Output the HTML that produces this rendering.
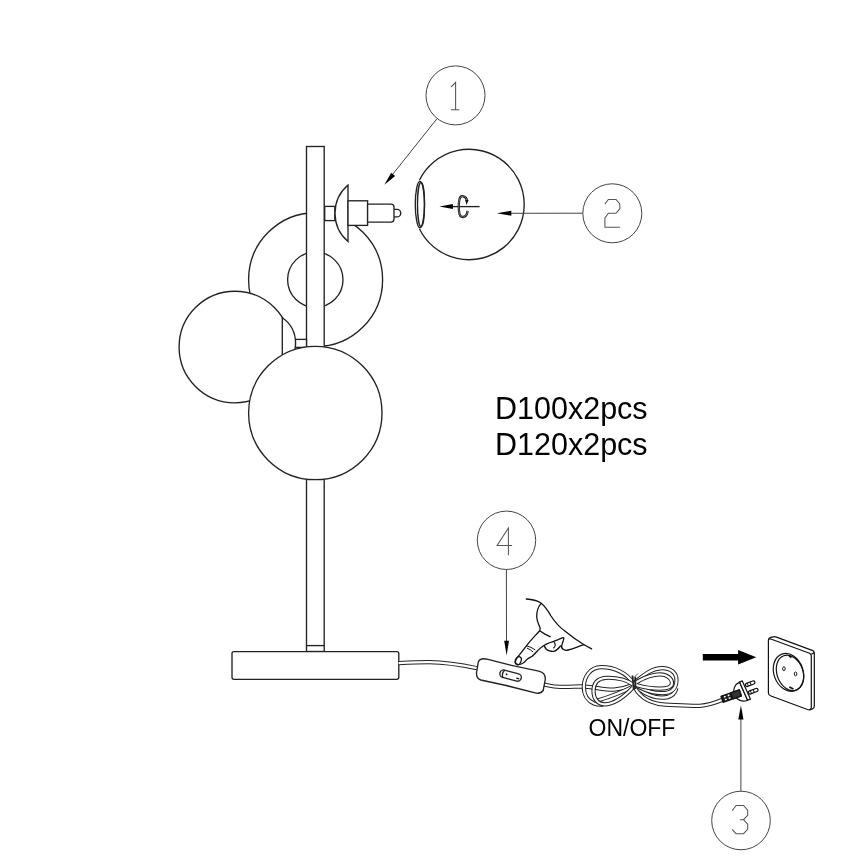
<!DOCTYPE html>
<html><head><meta charset="utf-8"><style>
html,body{margin:0;padding:0;background:#fff;width:868px;height:868px;overflow:hidden}
svg{display:block}
text{font-family:"Liberation Sans",sans-serif;fill:#000;-webkit-font-smoothing:antialiased}
.tx{will-change:transform;opacity:0.999}
.k{fill:#fff;stroke:#222;stroke-width:1.35}
.n{fill:none;stroke:#222;stroke-width:1.35}
.g{fill:none;stroke:#444;stroke-width:1}
.gd{fill:none;stroke:#555;stroke-width:1.05;stroke-linejoin:miter}
.f{fill:#000;stroke:none}
</style></head><body>
<svg width="868" height="868" viewBox="0 0 868 868">
<rect width="868" height="868" fill="#fff"/>

<!-- callout circles -->
<circle class="g" cx="455.5" cy="95.4" r="29.5"/>
<circle class="g" cx="612.3" cy="213.3" r="29.5"/>
<circle class="g" cx="506.5" cy="540.3" r="29.2"/>
<circle class="g" cx="741" cy="820.5" r="29.3"/>
<!-- digits -->
<path class="gd" d="M451,87.2 L455.6,82.4 L455.6,109.8 M451,109.8 L459.3,109.8"/>
<path class="gd" d="M604.9,203.9 L608.4,199.5 L616,199.5 L619.7,203.6 L619.9,208.7 L616,213.3 L608.4,213.3 L604.9,217.9 L604.9,227.3 L619.9,227.3"/>
<path class="gd" d="M508.4,555.3 L508.4,528 L497.1,545.5 L512.1,545.5"/>
<path class="gd" d="M732.1,810.8 L736.1,805.4 L743.5,805.4 L747.7,810.1 L747.7,815.3 L743.5,819.7 L739.9,819.7 M743.5,819.7 L747.7,824.1 L747.7,829.3 L743.5,833.7 L736.1,833.7 L732.1,829.3"/>

<!-- lamp: back big ball -->
<circle class="k" cx="315.6" cy="279.7" r="67"/>
<circle class="k" cx="315.3" cy="279.7" r="27.7"/>
<!-- left ball -->
<circle class="k" cx="234.9" cy="347" r="55.8"/>
<!-- stem -->
<rect class="k" x="306.5" y="146.5" width="17.7" height="505"/>
<line class="n" x1="306.5" y1="645.6" x2="324.2" y2="645.6"/>
<!-- left cup -->
<rect class="k" x="295.4" y="339.4" width="11.1" height="8"/>
<path class="k" d="M282.3,317.7 A30.8,30.8 0 0 1 282.3,368.3 Z"/>
<!-- front ball -->
<circle class="k" cx="315.3" cy="413" r="66.7"/>

<!-- top socket -->
<rect class="k" x="324.7" y="206.4" width="10.2" height="14.2"/>
<path class="k" d="M348,185.1 A37.2,37.2 0 0 0 348,241.6 Z"/>
<rect class="k" x="348" y="200.8" width="19.6" height="24.6"/>
<path class="k" d="M394,209.4 L397,209.4 A3.75,3.75 0 0 1 397,216.9 L394,216.9"/>
<path class="k" d="M367.6,204.1 L391,204.1 Q394,204.1 394,207.1 L394,219.1 Q394,222.1 391,222.1 L367.6,222.1 Z"/>

<!-- ball 2 -->
<path class="k" d="M419.4,180.3 A55.2,55.2 0 1 1 419.4,228.7"/>
<ellipse class="n" cx="419.9" cy="204.5" rx="4.6" ry="23.2"/>
<ellipse class="n" cx="421" cy="204.5" rx="3.5" ry="22"/>
<path class="n" d="M452,206.6 L479.6,206.6" stroke-width="1.1"/>
<path class="f" d="M439.3,206.6 L452.9,204.1 L452.9,208.9 Z"/>
<path d="M467,200.8 C 466.3,195.8 460.8,194.6 459.6,198.7 C 458.5,202.5 458.5,210.5 459.6,214.3 C 460.8,218.3 466.8,218.2 467.6,210.8" fill="none" stroke="#111" stroke-width="2.3"/>
<path d="M467,200.8 C 466.3,195.8 460.8,194.6 459.6,198.7 C 458.5,202.5 458.5,210.5 459.6,214.3 C 460.8,218.3 466.8,218.2 467.6,210.8" fill="none" stroke="#bbb" stroke-width="0.6"/>
<path d="M465.2,200 L468.6,200 L466.5,205 Z" fill="#111"/>

<!-- text -->
<g class="tx">
<text x="495" y="419" font-size="30.5">D100x2pcs</text>
<text x="495" y="455" font-size="30.5">D120x2pcs</text>
<text x="588.5" y="735.6" font-size="23">ON/OFF</text>
</g>

<!-- base -->
<rect class="k" x="232" y="651.6" width="166.8" height="27.7" rx="2"/>


<!-- cables: black + white core -->
<g fill="none" stroke-linecap="butt" stroke-linejoin="round">
<path id="cab1" d="M398.6,663.2 C 410,662.6 420,662.2 429.2,662.2 C 445,662.4 462,665 477,668.2" stroke="#222" stroke-width="4.2"/>
<path d="M398.6,663.2 C 410,662.6 420,662.2 429.2,662.2 C 445,662.4 462,665 477,668.2" stroke="#fff" stroke-width="2.2"/>
<path d="M544,684.5 C 549,685.5 553,686.9 560,686.9 C 568,686.9 575,686.5 581,686.4 C 592,686.6 605,690 614,689.6 C 622,689 628,687 633,685" stroke="#222" stroke-width="4.2"/>
<path d="M544,684.5 C 549,685.5 553,686.9 560,686.9 C 568,686.9 575,686.5 581,686.4 C 592,686.6 605,690 614,689.6 C 622,689 628,687 633,685" stroke="#fff" stroke-width="2.2"/>
</g>

<!-- switch -->
<path class="k" d="M488,659.4 Q 513,666.4 538.8,671.2 Q 545.5,673 545.4,679 L 543.2,690.5 Q 540.5,694.5 534.2,692.6 Q 507,685.2 480.8,680 Q 476.2,678.5 476.5,673 L 478.3,662 Q 480,657.4 488,659.4 Z"/>
<g transform="translate(510.6,675.6) rotate(15)">
<rect class="k" x="-11" y="-3.7" width="22" height="7.4" rx="3.7"/>
<path class="n" d="M-7.2,-3.7 Q -9.4,0 -7.2,3.7" stroke-width="1.1"/>
<circle cx="-4.2" cy="-0.2" r="0.95" fill="#111"/>
<path d="M6.2,1 L9.2,1" stroke="#111" stroke-width="1.3"/>
</g>


<!-- hand -->
<g fill="none" stroke="#111" stroke-width="1.3" stroke-linecap="round" stroke-linejoin="round">
<path d="M526.3,599 C 532,599.3 537.5,600.8 540.9,603 C 544,605.5 548.5,611.5 551,616 C 555,622 559,627 564.5,630.7 C 571,636 578,641 584.1,644.7 L 591.6,648.9"/>
<path d="M540.9,603.6 C 538,607 536.6,612 536.7,617 C 537,622 539.5,626 540.2,628.4 L 539.7,630.7 L 544.9,634.1 L 550.1,636.7"/>
<path d="M539.4,631 C 535,636 530,641 526.6,645.7 C 524.5,648.5 521,653 518.3,656.3 C 516.5,657.8 515.2,659.4 515.1,661.6 C 515.1,663.3 516,664.1 517.5,664.4 C 519.5,664.8 521,664.3 522.4,663.5 C 524,662.5 525.2,661.6 525.8,660.7 C 526.5,659.8 527.3,658.8 528.4,658.3 C 530,657.6 531,657 532.1,656.3 C 534,654.8 537.5,650.8 539.5,648.9 C 541,647.5 543,645.7 545.9,644.3 C 549,642.8 553,641.5 557.6,639.9 C 560,639 563,637.3 563.8,637.8 C 564,639.5 562.5,642.5 562,644.5 C 561.3,646.5 561.6,648.3 562.8,649.1 C 564.5,650.6 566.5,650.4 568,650 C 573,648.8 578,646.5 584.1,644.7"/>
<path d="M544.4,646.2 C 545,648 546.5,650 549.5,650.9 C 551.5,651.5 553,651.5 554.5,651.2 C 556.5,650.5 558.5,648.5 560.5,646"/>
<path d="M554.1,642.2 C 555.5,644 555.5,646.5 553.6,648" stroke-width="1.1"/>
<path d="M527,645.9 Q 531,647 534.9,649.6 M 527.3,648.2 Q 530.5,649.5 532.8,651.7" stroke-width="1"/>
<ellipse cx="518.4" cy="660.7" rx="2.7" ry="4.1" transform="rotate(20 518.4 660.7)"/>
</g>

<!-- coil -->
<g fill="none" stroke-linecap="butt" stroke-linejoin="round">
<path d="M633,683 C 627,673 614,667 601,667.2 C 590,667.5 583.8,677 583.8,687 C 583.8,695 588,701 594,703.5 C 597,704.6 600,704.8 603,704.6" stroke="#222" stroke-width="4.2"/>
<path d="M633,683 C 627,673 614,667 601,667.2 C 590,667.5 583.8,677 583.8,687 C 583.8,695 588,701 594,703.5 C 597,704.6 600,704.8 603,704.6" stroke="#fff" stroke-width="2.2"/>
<path d="M596,701 C 606,698 620,693.5 633,686.5" stroke="#222" stroke-width="4.2"/>
<path d="M596,701 C 606,698 620,693.5 633,686.5" stroke="#fff" stroke-width="2.2"/>
<path d="M633,684.5 C 626,679.5 615,677.5 606,677.8 C 597,678.2 593.5,684 593.5,691 C 593.5,699 598,704.3 604.5,704.3 C 613,704.3 624,697 633,687.5" stroke="#222" stroke-width="4.2"/>
<path d="M633,684.5 C 626,679.5 615,677.5 606,677.8 C 597,678.2 593.5,684 593.5,691 C 593.5,699 598,704.3 604.5,704.3 C 613,704.3 624,697 633,687.5" stroke="#fff" stroke-width="2.2"/>
<path d="M635,686 C 643,693 652,697.7 662,697.7 C 670,697.7 675,694 676.3,688" stroke="#222" stroke-width="4.2"/>
<path d="M635,686 C 643,693 652,697.7 662,697.7 C 670,697.7 675,694 676.3,688" stroke="#fff" stroke-width="2.2"/>
<path d="M635,682 C 645,674 652,668.3 662,668.1 C 671,668 676.5,673 676.5,680 C 676.5,688 672,693.2 662,693.2 C 652,693.2 642,689 635,685" stroke="#222" stroke-width="4.2"/>
<path d="M635,682 C 645,674 652,668.3 662,668.1 C 671,668 676.5,673 676.5,680 C 676.5,688 672,693.2 662,693.2 C 652,693.2 642,689 635,685" stroke="#fff" stroke-width="2.2"/>
<path d="M635,683 C 644,677.5 652,674.4 660,674.4 C 667,674.4 672,678.5 672,683 C 672,687 668,688.6 660,688.6 C 650,688.6 642,687 635,684.5" stroke="#222" stroke-width="4.2"/>
<path d="M635,683 C 644,677.5 652,674.4 660,674.4 C 667,674.4 672,678.5 672,683 C 672,687 668,688.6 660,688.6 C 650,688.6 642,687 635,684.5" stroke="#fff" stroke-width="2.2"/>
<path d="M634.5,687 C 640,697.5 650,703.8 665,704.6 C 680,705.3 692,706.2 700,705.8 C 710,705.2 716,702.5 724,699.2" stroke="#222" stroke-width="4.2"/>
<path d="M634.5,687 C 640,697.5 650,703.8 665,704.6 C 680,705.3 692,706.2 700,705.8 C 710,705.2 716,702.5 724,699.2" stroke="#fff" stroke-width="2.2"/>
<path d="M632.5,675.5 L 633.8,690 M 635.2,676.5 L 635.5,689" stroke="#222" stroke-width="1.8"/>
<path d="M635.5,676 L 638,673.5" stroke="#444" stroke-width="0.9"/>
</g>

<!-- plug -->
<g stroke="#111" stroke-width="1.2" stroke-linejoin="round">
<path d="M739.5,682.1 A9.9,9.9 0 0 0 747.6,700.2 Z" fill="#fff"/>
<g transform="translate(731.4,696) rotate(-19.5)">
<rect x="-10" y="-3.2" width="19.5" height="6.4" fill="#1a1a1a"/>
<rect x="0.5" y="-3.2" width="9" height="6.4" fill="#333"/>
<g fill="#fff" stroke="none"><rect x="-7.4" y="-2.3" width="1.9" height="1.5"/><rect x="-3.4" y="-2.3" width="1.9" height="1.5"/><rect x="-7.4" y="0.6" width="1.9" height="1.5"/><rect x="-3.4" y="0.6" width="1.9" height="1.5"/></g>
</g>
<path d="M739.5,682.1 L742.3,680.9 L750.4,699.1 L747.6,700.3 Z" fill="#fff"/>
<g transform="translate(745.5,685.5) rotate(-21)">
<rect x="0" y="-1.6" width="10" height="3.2" rx="1.6" fill="#fff"/>
<path d="M2.5,-1.6 L2.5,1.6 M 5.5,-1.6 L5.5,1.6" stroke-width="0.9"/>
</g>
<g transform="translate(748.6,693) rotate(-21)">
<rect x="0" y="-1.6" width="10" height="3.2" rx="1.6" fill="#fff"/>
<path d="M2.5,-1.6 L2.5,1.6 M 5.5,-1.6 L5.5,1.6" stroke-width="0.9"/>
</g>
</g>

<!-- big arrow -->
<path d="M702.8,654.1 L738.1,654.1 L738.1,650.1 L756.3,657.3 L738.1,664.6 L738.1,660.6 L702.8,660.6 Z" fill="#000"/>

<!-- socket -->
<g fill="#fff" stroke="#111" stroke-width="1.2" stroke-linejoin="round">
<path d="M768.4,640 Q 768.4,638 770.7,637.4 L 773.5,636.8 Q 775,636.5 776.5,637.1 L 812.8,650.6 Q 814.3,651.3 814.3,653 L 814.3,706 Q 814.3,708 812.5,708.9 L 810.5,709.6 Q 809,710 807.5,709.5 L 771,696 Q 768.4,695 768.4,693 Z"/>
<path d="M768.8,639.5 Q 769.5,638.6 771.5,639.2 L 809.5,653.2 Q 811.3,654 811.3,656 L 811.3,707.5 Q 811.3,709.4 809.5,709.6" fill="none"/>
<path d="M811.3,654.2 L 814.3,652.6" fill="none"/>
<ellipse cx="788.5" cy="672.4" rx="14.6" ry="19.4" transform="rotate(-20 788.5 672.4)"/>
<ellipse cx="790" cy="672.9" rx="13" ry="18.2" transform="rotate(-20 790 672.9)" fill="none"/>
<ellipse cx="783.9" cy="668.7" rx="1.3" ry="1.9" fill="none" stroke-width="1"/>
<ellipse cx="795.6" cy="673.9" rx="1.3" ry="1.9" fill="none" stroke-width="1"/>
<path d="M789,656 L 791.5,657.5 M 789.3,687 L 793.5,689" fill="none" stroke-width="1.6"/>
</g>

<!-- leaders -->
<path class="g" d="M436.9,118.8 L390,177.7"/>
<path class="f" d="M384.4,184.7 L391.2,172.8 L395.2,176 Z"/>
<path class="g" d="M582.9,213.2 L505,213.3"/>
<path class="f" d="M496.8,213.3 L511.3,210.8 L511.3,215.8 Z"/>
<path class="g" d="M506.4,569.8 L506.5,645"/>
<path class="f" d="M506.6,655.5 L504.2,640.8 L509,640.8 Z"/>
<path class="g" d="M740.9,791 L740.9,715"/>
<path class="f" d="M740.9,705.5 L738.3,719.4 L743.5,719.4 Z"/>

</svg>
</body></html>
